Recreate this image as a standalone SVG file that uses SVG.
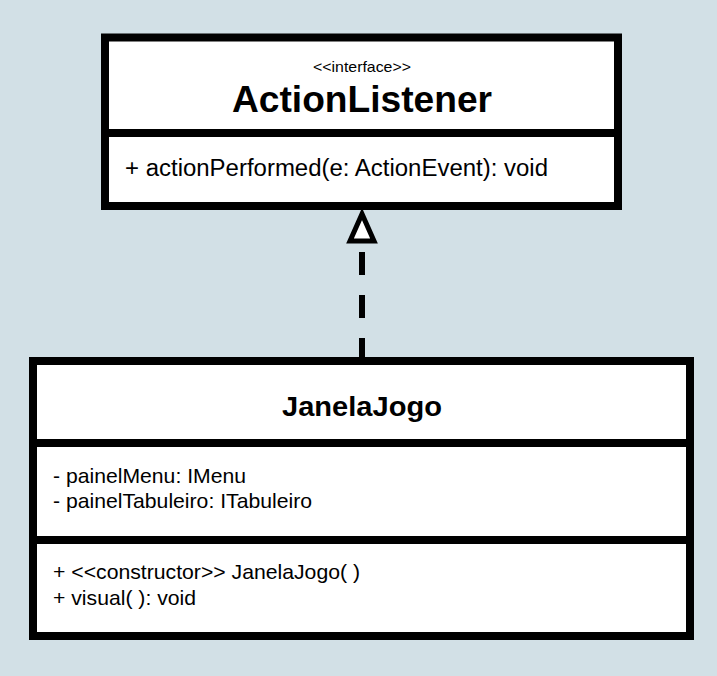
<svg xmlns="http://www.w3.org/2000/svg" width="717" height="676" viewBox="0 0 717 676">
<style>
.box{fill:#ffffff;stroke:#000000;stroke-width:8}
.div{stroke:#000000;stroke-width:8}
text{font-family:"Liberation Sans",Arial,sans-serif;fill:#000000}
.st{font-size:15px;text-anchor:middle}
.title{font-weight:bold;text-anchor:middle}
.mem{font-size:21px}
</style>
<rect x="0" y="0" width="717" height="676" fill="#d2e0e6"/>
<g id="connectors">
<line x1="362" y1="244" x2="362" y2="361" stroke="#000" stroke-width="6" stroke-dasharray="23 20" stroke-dashoffset="-8"/>
<polygon points="362,214 350,241 374,241" fill="#ffffff" stroke="#000" stroke-width="5"/>
</g>
<g id="ActionListener">
<rect class="box" x="105" y="37.5" width="513" height="168.5"/>
<line class="div" x1="105" y1="133" x2="618" y2="133"/>
<text class="st" x="362" y="72" textLength="98" lengthAdjust="spacingAndGlyphs">&lt;&lt;interface&gt;&gt;</text>
<text class="title" x="362" y="112" font-size="37" textLength="260" lengthAdjust="spacingAndGlyphs">ActionListener</text>
<text x="125" y="176" font-size="23" textLength="423" lengthAdjust="spacingAndGlyphs">+ actionPerformed(e: ActionEvent): void</text>
</g>
<g id="JanelaJogo">
<rect class="box" x="33" y="361" width="657" height="275"/>
<line class="div" x1="33" y1="443" x2="690" y2="443"/>
<line class="div" x1="33" y1="540" x2="690" y2="540"/>
<text class="title" x="362" y="416" font-size="28" textLength="160" lengthAdjust="spacingAndGlyphs">JanelaJogo</text>
<text class="mem" x="53" y="483" textLength="193" lengthAdjust="spacingAndGlyphs">- painelMenu: IMenu</text>
<text class="mem" x="53" y="508" textLength="259" lengthAdjust="spacingAndGlyphs">- painelTabuleiro: ITabuleiro</text>
<text class="mem" x="53" y="579" textLength="307" lengthAdjust="spacingAndGlyphs">+ &lt;&lt;constructor&gt;&gt; JanelaJogo( )</text>
<text class="mem" x="53" y="605" textLength="143" lengthAdjust="spacingAndGlyphs">+ visual( ): void</text>
</g>
</svg>
